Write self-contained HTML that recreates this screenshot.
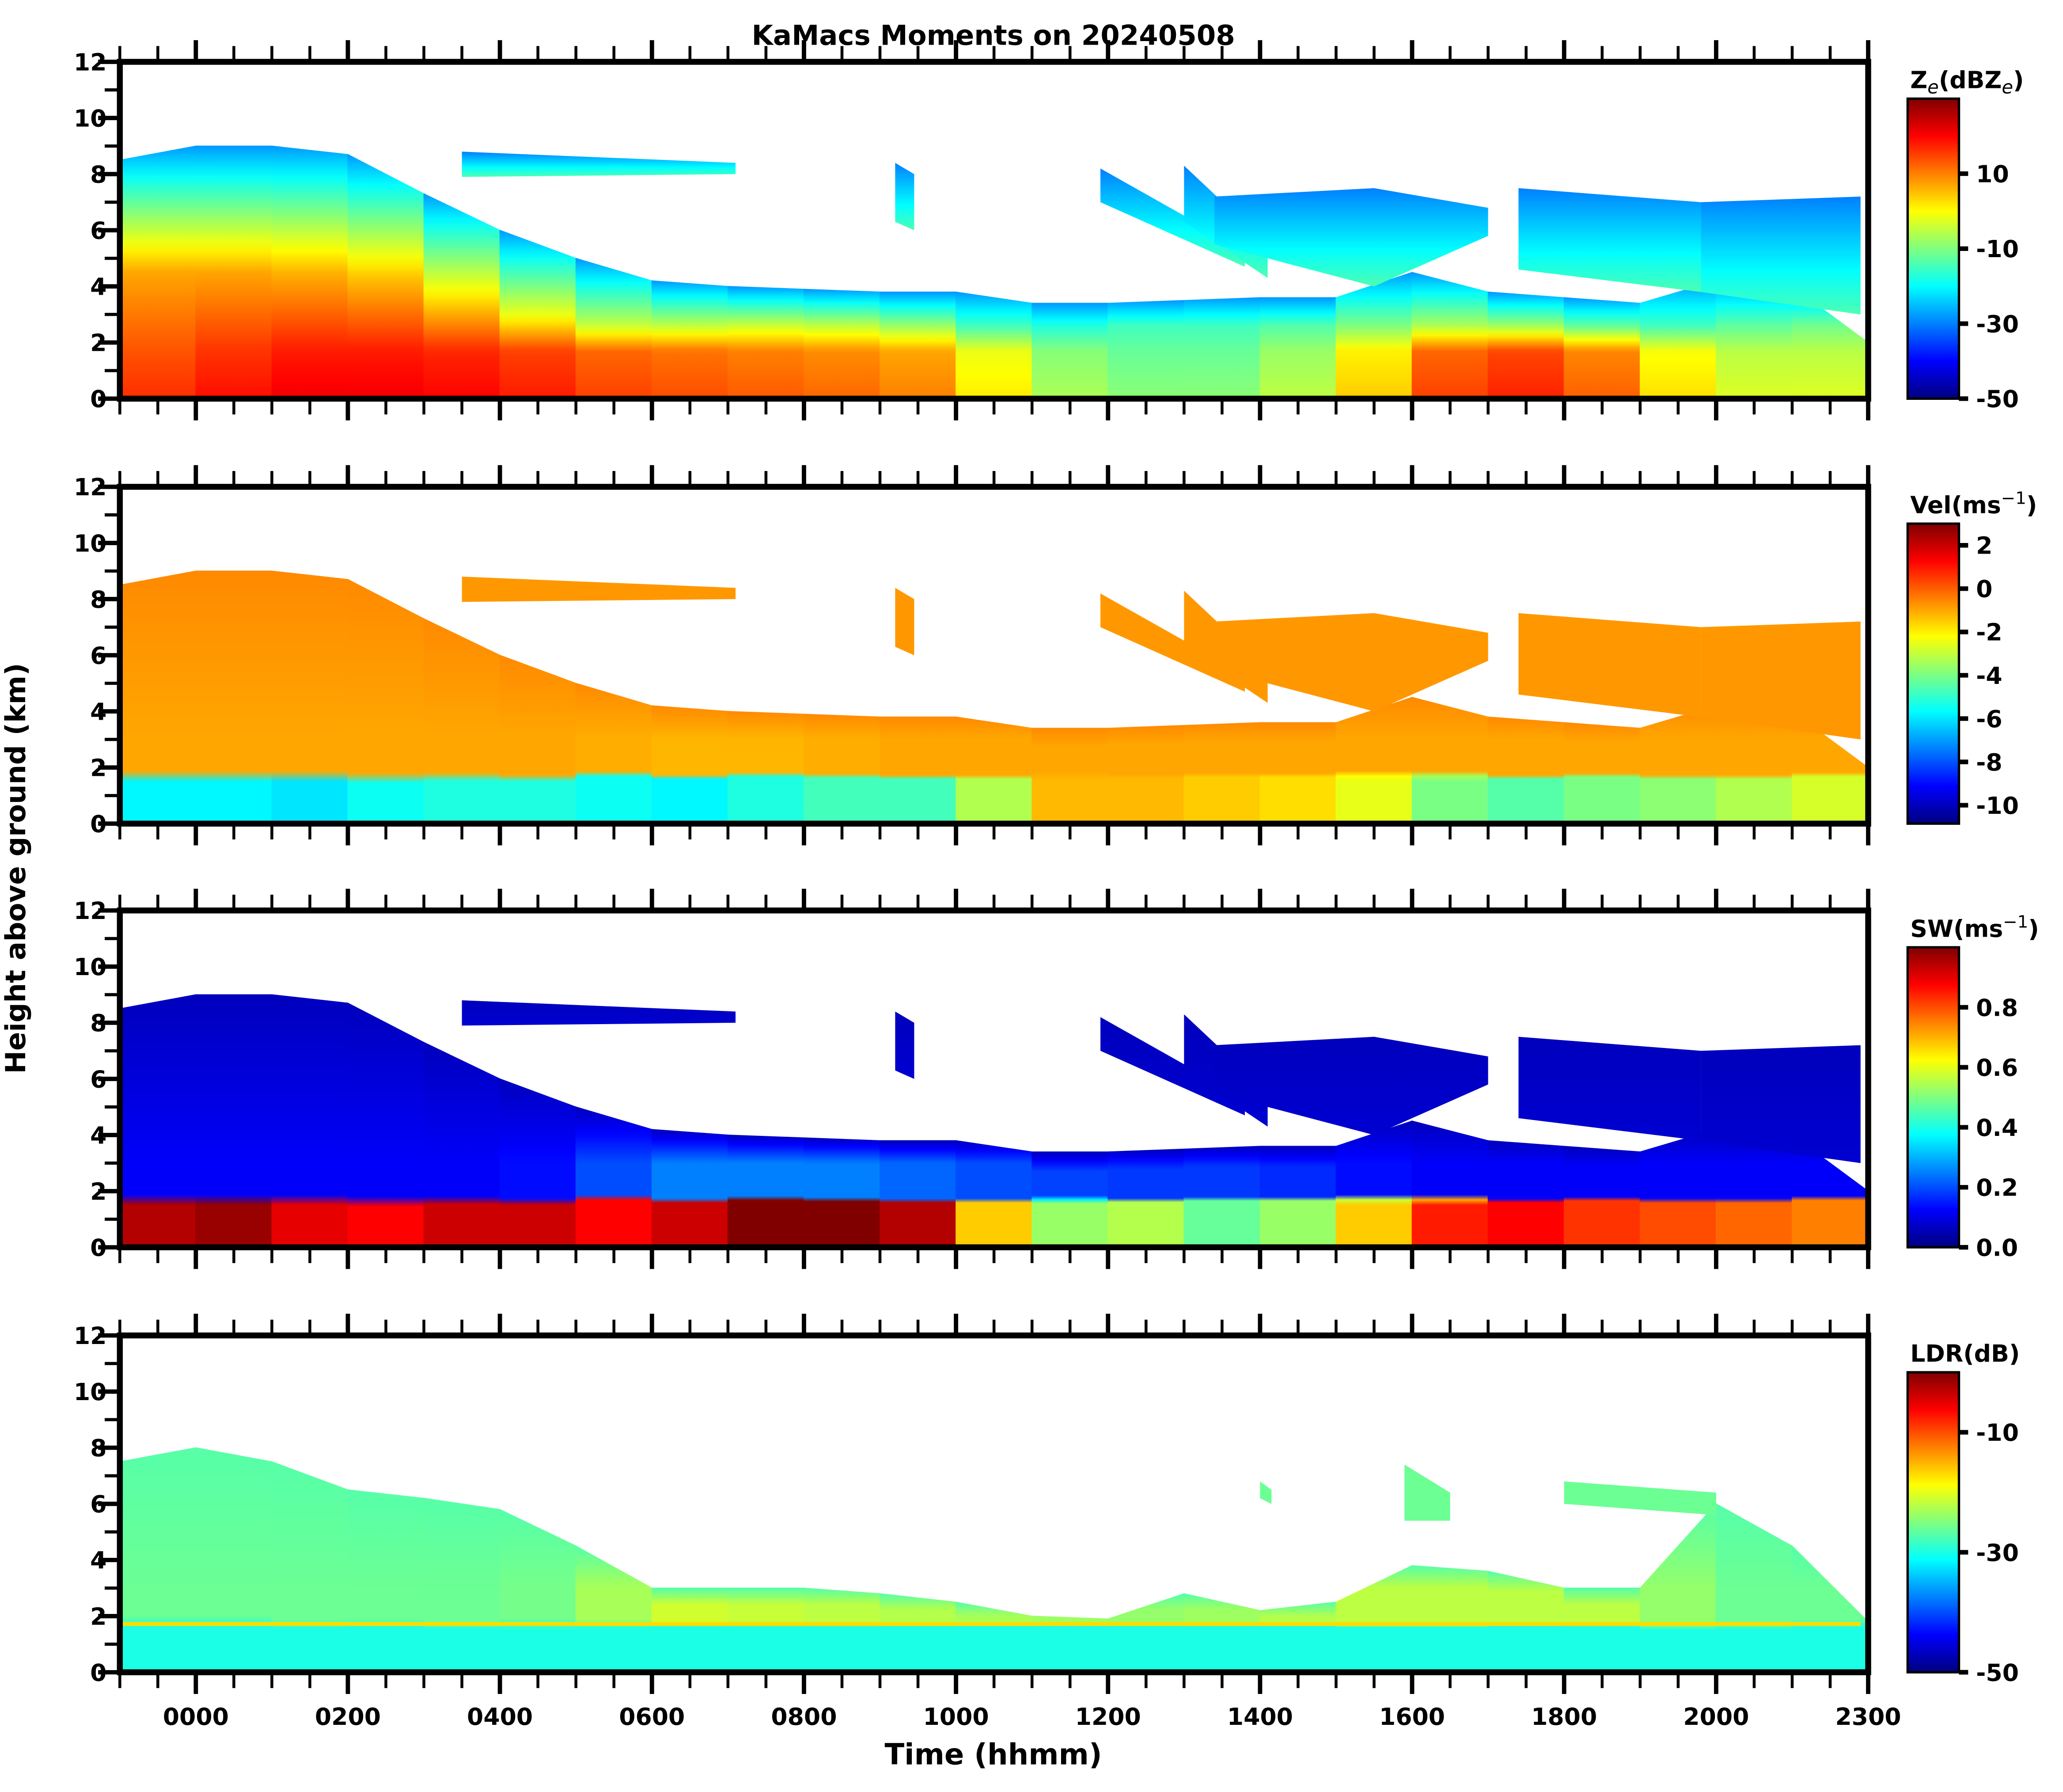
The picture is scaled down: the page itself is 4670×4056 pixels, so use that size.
<!DOCTYPE html>
<html><head><meta charset="utf-8">
<style>
html,body{margin:0;padding:0;background:#fff;}
svg{display:block;}
text{font-family:"DejaVu Sans","Liberation Sans",sans-serif;font-weight:bold;fill:#000;}
</style></head>
<body>
<svg id="fig" width="4670" height="4056" viewBox="0 0 1568 1362" xmlns="http://www.w3.org/2000/svg">
<text x="755" y="34" font-size="21" text-anchor="middle">KaMacs Moments on 20240508</text>
<text transform="translate(19,660) rotate(-90)" font-size="21" text-anchor="middle">Height above ground (km)</text>
<text x="755" y="1341" font-size="22" text-anchor="middle">Time (hhmm)</text>
</svg>
<script>
// ---- data ----
const hours = [-1,0,1,2,3,4,5,6,7,8,9,10,11,12,13,14,15,16,17,18,19,20,21,22];
const cloudTop = [8.5,9.0,9.0,8.7,7.3,6.0,5.0,4.2,4.0,3.9,3.8,3.8,3.4,3.4,3.5,3.6,3.6,4.5,3.8,3.6,3.4,4.2,4.0,2.0];
const zeLow = [15,18,20,22,20,20,16,14,14,12,12,8,-5,-8,-10,-8,-2,10,20,15,10,-5,0,-5];
const zeMid = [6,8,6,6,3,0,-3,-6,-4,-4,-6,-10,-20,-15,-15,-15,-12,-8,-5,-10,-15,-15,-10,-12];
const zeTopVal = -28;
const velLow = [-6,-5.5,-6,-6,-5,-5.5,-5,-6,-5.5,-5,-4.5,-5,-1.5,-1,-1.5,-1.5,-2,-3,-5,-4,-4,-3.5,-3,-2.5];
const velMid = [-1,-1,-1,-1,-1,-1,-1,-1.2,-1.2,-1.2,-1,-1,-1,-1,-1,-1,-1,-1,-1,-1,-1,-1,-1,-1];
const velTopVal = -0.6;
const swLow = [0.9,1,0.95,0.85,0.9,0.95,0.9,0.85,1,1,1,0.9,0.45,0.6,0.5,0.45,0.6,0.75,0.95,0.8,0.85,0.75,0.8,0.7];
const swMid = [0.12,0.12,0.12,0.12,0.12,0.12,0.15,0.25,0.25,0.25,0.25,0.2,0.2,0.18,0.18,0.18,0.15,0.12,0.12,0.12,0.12,0.12,0.12,0.12];
const swTopVal = 0.06;
const ldrTop = [7.5,8,7.5,6.5,6.2,5.8,4.5,3.0,3.0,3.0,2.8,2.5,2.0,1.9,2.8,2.2,2.5,3.8,3.6,3.0,3.0,6.0,4.5,1.8];
const ldrLow = [-30,-30,-30,-30,-30,-30,-30,-30,-30,-30,-30,-30,-30,-30,-30,-30,-30,-30,-30,-30,-30,-30,-30,-30];
const ldrMid = [-26,-26,-26,-26,-26,-26,-25,-21,-21,-22,-22,-23,-23,-24,-24,-23,-22,-22,-22,-22,-22,-26,-26,-26];
const ldrTopVal = -27;
const meltKm = 1.72;
// upper cloud fragments: [h0, base0, top0, h1, base1, top1]
const upperBlobs = [
 [3.5,7.9,8.8,7.1,8.0,8.4],
 [9.2,6.3,8.4,9.45,6.0,8.0],
 [11.9,7.0,8.2,13.8,4.7,5.3],
 [13.0,6.3,8.3,14.1,4.3,5.5],
 [13.4,5.5,7.2,15.5,4.0,7.5],
 [15.5,4.0,7.5,17.0,5.8,6.8],
 [17.4,4.6,7.5,19.8,3.8,7.0],
 [19.8,3.8,7.0,21.9,3.0,7.2]
];
const ldrBlobs = [
 [15.9,5.4,7.4,16.5,5.4,6.4],
 [18.0,6.0,6.8,20.0,5.6,6.4],
 [14.0,6.2,6.8,14.15,6.0,6.5]
];
const xTicks = [0,2,4,6,8,10,12,14,16,18,20,22];
const xTickLabels = ["0000","0200","0400","0600","0800","1000","1200","1400","1600","1800","2000","2300"];
const yTicks = [0,2,4,6,8,10,12];
const zeTicks = [10,-10,-30,-50];
const velTicks = [2,0,-2,-4,-6,-8,-10];
const swTicks = [0.8,0.6,0.4,0.2,0.0];
const ldrTicks = [-10,-30,-50];

// ---- helpers ----
const NS="http://www.w3.org/2000/svg";
const svg=document.getElementById('fig');
function mk(tag,attrs,parent){const e=document.createElementNS(NS,tag);for(const k in attrs)e.setAttribute(k,attrs[k]);(parent||svg).appendChild(e);return e;}
function jet(t){t=Math.max(0,Math.min(1,t));
 const r=Math.max(0,Math.min(1,Math.min(4*t-1.5,-4*t+4.5)));
 const g=Math.max(0,Math.min(1,Math.min(4*t-0.5,-4*t+3.5)));
 const b=Math.max(0,Math.min(1,Math.min(4*t+0.5,-4*t+2.5)));
 return `rgb(${Math.round(r*255)},${Math.round(g*255)},${Math.round(b*255)})`;}
const X0=91,X1=1420,HMIN=-1,HMAX=22;
function xS(h){return X0+(h-HMIN)/(HMAX-HMIN)*(X1-X0);}
const defs=mk('defs',{});
let gid=0;
function profileStops(lg,prof,tmax,cS){
 const N=24;
 for(let i=0;i<=N;i++){
  const km=i/N*tmax;
  let v=prof[prof.length-1][1];
  for(let j=0;j<prof.length-1;j++){
   if(km>=prof[j][0]&&km<=prof[j+1][0]){const a=prof[j],b=prof[j+1];v=b[0]===a[0]?b[1]:a[1]+(b[1]-a[1])*(km-a[0])/(b[0]-a[0]);break;}
  }
  mk('stop',{offset:i/N,'stop-color':cS(v)},lg);
 }
}

const panels=[
 {key:'ze',top:47,low:zeLow,mid:zeMid,topVal:zeTopVal,tops:cloudTop,blobs:upperBlobs,vmin:-50,vmax:30,ticks:zeTicks,fmt:v=>String(v),title:'Z<tspan font-style="italic" font-weight="normal" font-size="14" dy="4">e</tspan><tspan dy="-4">(dBZ</tspan><tspan font-style="italic" font-weight="normal" font-size="14" dy="4">e</tspan><tspan dy="-4">)</tspan>',blobLo:-14,blobHi:-30,melt:false,smooth:true},
 {key:'vel',top:370,low:velLow,mid:velMid,topVal:velTopVal,tops:cloudTop,blobs:upperBlobs,vmin:-10.85,vmax:3,ticks:velTicks,fmt:v=>String(v),title:'Vel(ms<tspan font-weight="normal" font-size="13" dy="-7">−1</tspan><tspan dy="7">)</tspan>',blobLo:-0.8,blobHi:-0.8,melt:false,smooth:false},
 {key:'sw',top:692,low:swLow,mid:swMid,topVal:swTopVal,tops:cloudTop,blobs:upperBlobs,vmin:0,vmax:1,ticks:swTicks,fmt:v=>v.toFixed(1),title:'SW(ms<tspan font-weight="normal" font-size="13" dy="-7">−1</tspan><tspan dy="7">)</tspan>',blobLo:0.08,blobHi:0.06,melt:false,smooth:false},
 {key:'ldr',top:1015,low:ldrLow,mid:ldrMid,topVal:ldrTopVal,tops:ldrTop,blobs:ldrBlobs,vmin:-50,vmax:0,ticks:ldrTicks,fmt:v=>String(v),title:'LDR(dB)',blobLo:-26,blobHi:-26,melt:true,smooth:false}
];
const PH=256;

panels.forEach(p=>{
 const yS=km=>p.top+PH-km/12*PH;
 const cS=v=>jet((v-p.vmin)/(p.vmax-p.vmin));
 const g=mk('g',{});
 
 
 for(let i=0;i<hours.length-1;i++){
  const h0=hours[i],h1=hours[i+1];
  const t0=Math.min(p.tops[i],12),t1=Math.min(p.tops[i+1],12);
  const tmax=Math.max(t0,t1);
  const id='g'+(gid++);
  const lg=mk('linearGradient',{id:id,gradientUnits:'userSpaceOnUse',x1:0,x2:0,y1:yS(0),y2:yS(tmax)},defs);
  const lo=(p.low[i]+p.low[i+1])/2, mi=(p.mid[i]+p.mid[i+1])/2;
  let prof;
  if(p.smooth){
   const mk2=Math.max(2.6,tmax*0.5);
   prof=[[0,lo],[1.7,lo-3],[mk2,mi],[tmax,p.topVal]];
  } else if(tmax>2.3){
   prof=[[0,lo],[1.68,lo],[1.72,mi],[Math.max(1.8,Math.min(3.0,tmax*0.8)),mi],[tmax,p.topVal]];
  } else {
   prof=[[0,lo],[1.68,lo],[1.72,mi],[tmax,mi]];
  }
  profileStops(lg,prof,tmax,cS);
  const poly=mk('polygon',{points:`${xS(h0)},${yS(0)} ${xS(h0)},${yS(t0)} ${xS(h1)},${yS(t1)} ${xS(h1)},${yS(0)}`,fill:`url(#${id})`,stroke:`url(#${id})`,'stroke-width':0.6},g);
  
  
 }
 p.blobs.forEach(b=>{
  const id='g'+(gid++);
  const lg=mk('linearGradient',{id:id,gradientUnits:'userSpaceOnUse',x1:0,x2:0,y1:yS(Math.min(b[1],b[4])),y2:yS(Math.max(b[2],b[5]))},defs);
  profileStops(lg,[[0,p.blobLo],[1,p.blobHi]],1,cS);
  const poly=mk('polygon',{points:`${xS(b[0])},${yS(b[1])} ${xS(b[0])},${yS(b[2])} ${xS(b[3])},${yS(b[5])} ${xS(b[3])},${yS(b[4])}`,fill:`url(#${id})`},g);
  
  
 });
 if(p.melt){
  const ln=mk('line',{x1:X0,x2:xS(21.9),y1:yS(meltKm),y2:yS(meltKm),stroke:cS(-17),'stroke-width':3},g);
  
  
 }
 const fr=mk('rect',{x:X0,y:p.top,width:X1-X0,height:PH,fill:'none',stroke:'#000','stroke-width':4.5},g);
 
 
 for(let h=HMIN;h<=HMAX+0.001;h+=0.5){
  const major=xTicks.some(t=>Math.abs(t-h)<1e-6);
  const L=major?14.5:10, W=major?3.3:2.2;
  mk('line',{x1:xS(h),x2:xS(h),y1:p.top+PH+2,y2:p.top+PH+2+L,stroke:'#000','stroke-width':W},g);
  mk('line',{x1:xS(h),x2:xS(h),y1:p.top-2,y2:p.top-2-L,stroke:'#000','stroke-width':W},g);
 }
 for(let k=0;k<=12;k++){
  const major=k%2===0;
  const L=major?14.5:9.5;
  mk('line',{x1:X0-2,x2:X0-2-L,y1:yS(k),y2:yS(k),stroke:'#000','stroke-width':major?3.3:2.4},g);
 }
 yTicks.forEach(k=>{
  const t=mk('text',{x:81,y:yS(k)+6.5,'font-size':18,'text-anchor':'end'},g);
  t.textContent=String(k);
  
  
 });
 const cbTop=p.top+28,cbX=1450,cbW=39;
 const cbS=v=>p.top+PH-(v-p.vmin)/(p.vmax-p.vmin)*(PH-28);
 const cid='cb'+p.key;
 const cg=mk('linearGradient',{id:cid,x1:0,x2:0,y1:1,y2:0},defs);
 for(let i=0;i<=32;i++)mk('stop',{offset:i/32,'stop-color':jet(i/32)},cg);
 const cb=mk('rect',{x:cbX,y:cbTop,width:cbW,height:PH-28,fill:`url(#${cid})`,stroke:'#000','stroke-width':1.8},g);
 
 
 p.ticks.forEach(v=>{
  mk('line',{x1:cbX+cbW,x2:cbX+cbW+7,y1:cbS(v),y2:cbS(v),stroke:'#000','stroke-width':3.5},g);
  const t=mk('text',{x:cbX+cbW+13,y:cbS(v)+6.5,'font-size':18},g);
  t.textContent=p.fmt(v);
  
  
 });
 const ct=mk('text',{x:cbX+2,y:cbTop-8,'font-size':18},g);
 ct.innerHTML=p.title;
 
 
});
xTicks.forEach((h,i)=>{
 const t=mk('text',{x:xS(h),y:1311,'font-size':18,'text-anchor':'middle'});
 t.textContent=xTickLabels[i];
 
 
});
</script>
</body></html>
